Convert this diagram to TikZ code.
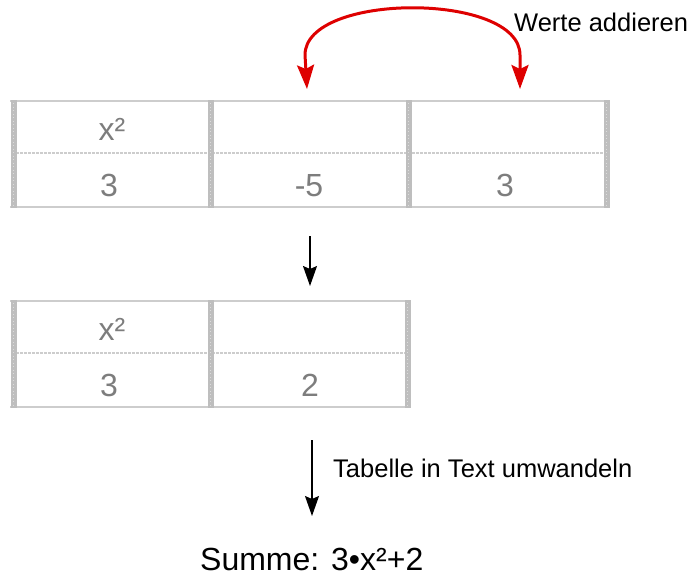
\documentclass[tikz,border=0pt]{standalone}
\usepackage{fontspec}
\setmainfont{Liberation Sans}
\usetikzlibrary{arrows.meta}
\definecolor{celltext}{RGB}{125,125,125}
\definecolor{barcol}{RGB}{190,190,190}
\definecolor{bardot}{RGB}{220,220,220}
\definecolor{linecol}{RGB}{205,205,205}
\definecolor{arcred}{RGB}{222,0,0}
\begin{document}
\begin{tikzpicture}[x=1pt,y=-1pt,
  cell/.style={anchor=base, text=celltext, font=\fontsize{32}{36}\selectfont, inner sep=0pt},
  lbl/.style={anchor=base west, inner sep=0pt, font=\fontsize{25.5}{30}\selectfont},
  sumtext/.style={anchor=base west, inner sep=0pt, font=\fontsize{32}{36}\selectfont},
  vbar/.style={draw=barcol, line width=6pt},
  vdots/.style={draw=bardot, line width=1.2pt, dash pattern=on 1pt off 2.5pt},
  hline/.style={draw=linecol, line width=2pt},
  mline/.style={draw=linecol, line width=1.5pt, dash pattern=on 3pt off 1pt},
  flow/.style={-{Stealth[length=20pt,width=14pt,inset=3pt]}, line width=1.5pt},
  redarc/.style={draw=arcred, line width=3pt, line cap=round,
    {Stealth[length=24pt,width=17pt,inset=4pt]}-{Stealth[length=24pt,width=17pt,inset=4pt]}}]
\useasboundingbox (0,0) rectangle (690,576);

% ---- table 1 ----
\foreach \y in {101,207} \draw[hline] (10,\y) -- (610,\y);
\draw[mline] (16,153) -- (604,153);
\foreach \x in {13.5,210.5,408.5,606.5} {
  \draw[vbar] (\x,100) -- (\x,208);
  \draw[vdots] (\x,103) -- (\x,205);
}
\node[cell] (a11) at (112,140) {x²};
\node[cell] (a21) at (109,196) {3};
\node[cell] (a22) at (309,196) {-5};
\node[cell] (a23) at (505,196) {3};

% ---- table 2 ----
\foreach \y in {301,407} \draw[hline] (10,\y) -- (410,\y);
\draw[mline] (16,353) -- (405,353);
\foreach \x in {13.5,210.5,407.5} {
  \draw[vbar] (\x,300) -- (\x,408);
  \draw[vdots] (\x,303) -- (\x,405);
}
\node[cell] (b11) at (112,340) {x²};
\node[cell] (b21) at (109,396) {3};
\node[cell] (b22) at (310,396) {2};

% ---- red arc ----
\coordinate (t1) at (307,89);
\coordinate (t2) at (520,89);
\draw[redarc] (t1) -- (305,55) .. controls (305,-8) and (520,-8) .. (520,55) -- (t2);
\node[lbl] (werte) at (514,31) {Werte addieren};

% ---- arrows ----
\coordinate (s1) at (310,236);
\coordinate (e1) at (310,286);
\draw[flow] (s1) -- (e1);
\coordinate (s2) at (312,440);
\coordinate (e2) at (312,516);
\draw[flow] (s2) -- (e2);
\node[lbl] (conv) at (333,477) {Tabelle in Text umwandeln};

\node[sumtext] (sum) at (200,570) {Summe: 3•x²+2};
\end{tikzpicture}
\end{document}
